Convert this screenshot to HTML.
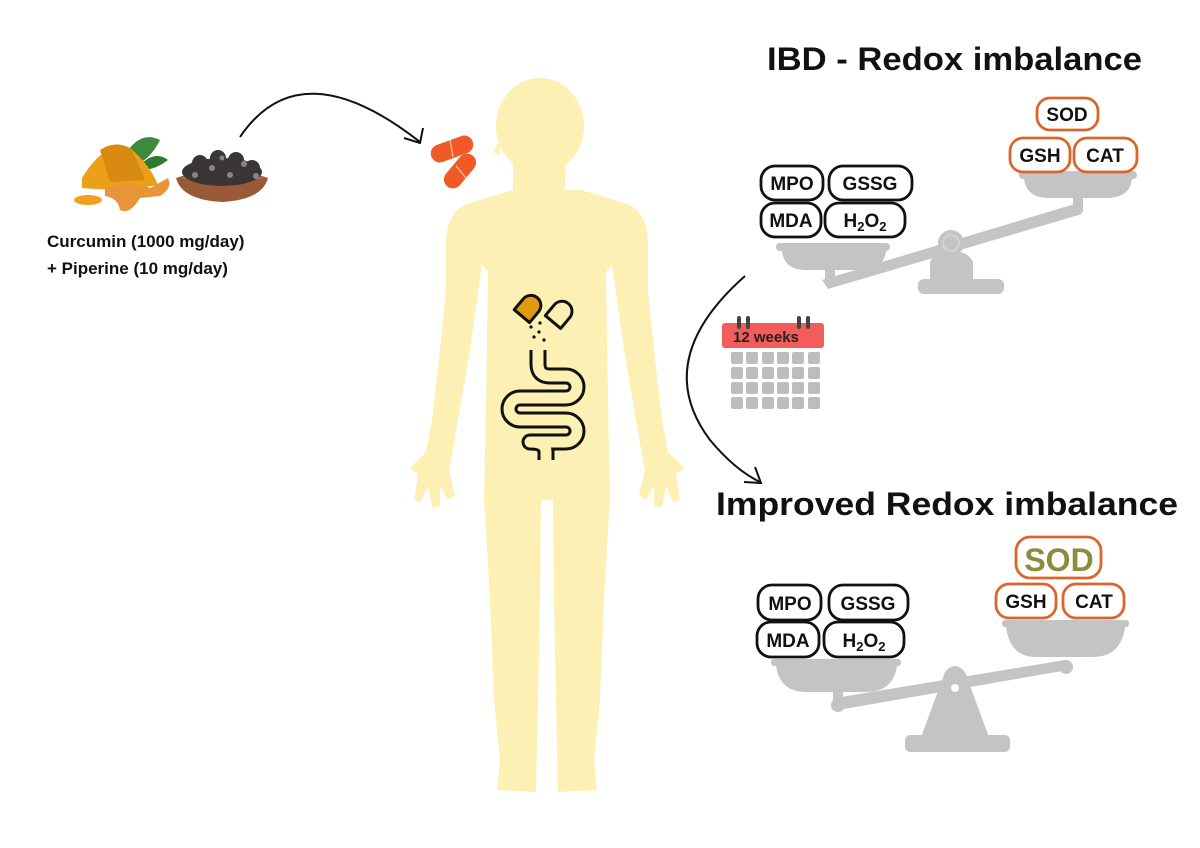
<!DOCTYPE html>
<html><head><meta charset="utf-8"><style>
html,body{margin:0;padding:0;background:#fff;}
svg{display:block;}
text{font-family:"Liberation Sans",Arial,sans-serif;font-weight:bold;}
</style></head><body>
<svg width="1200" height="848" viewBox="0 0 1200 848" xmlns="http://www.w3.org/2000/svg">
<!-- body -->
<g fill="#fdf0b4">
<ellipse cx="540" cy="126" rx="44" ry="48"/>
<path d="M500,140 L493,152 L500,156 Z"/>
<rect x="513" y="150" width="52" height="55"/>
<path d="M513,190 L470,203 Q446,210 446,245 L480,262 L488,272 L486,400 L484,500 L610,500 L608,400 L606,272 L614,262 L648,245 Q648,210 624,203 L581,190 Z"/>
<path d="M446,238 L481,238 L482,265 L470,350 L458,420 L452,455 L449,470 L455,495 L448,500 L440,486 L440,506 L432,508 L428,486 L421,502 L414,500 L418,474 L410,468 L426,452 L432,420 L440,350 L446,290 Z"/>
<path d="M648,238 L613,238 L612,265 L624,350 L636,420 L642,455 L645,470 L639,495 L646,500 L654,486 L654,506 L662,508 L666,486 L673,502 L680,500 L676,474 L684,468 L668,452 L662,420 L654,350 L648,290 Z"/>
<path d="M484,495 L541,495 L540,600 L538,700 L536,792 L497,790 L500,760 L494,700 L490,600 Z"/>
<path d="M553,495 L610,495 L604,600 L600,700 L594,760 L597,790 L558,792 L556,700 L554,600 Z"/>
</g>
<!-- orange pills -->
<g fill="#ef5a26">
<rect x="430" y="140" width="44" height="18" rx="9" transform="rotate(-20 452 149)"/>
<rect x="440" y="162" width="40" height="18" rx="9" transform="rotate(-50 460 171)"/>
</g>
<g stroke="#fbc9a8" stroke-width="1.2"><line x1="450" y1="140" x2="453" y2="157"/><line x1="456" y1="166" x2="466" y2="178"/></g>
<!-- curved arrow top -->
<path d="M240,137 Q300,48 420,142" fill="none" stroke="#111" stroke-width="2"/>
<path d="M404,138 L420,143 L423,128" fill="none" stroke="#111" stroke-width="2"/>
<!-- stomach icon -->
<g transform="rotate(40 527 310)">
<path d="M517,318 V304 A10,10 0 0 1 537,304 V318 Z" fill="#e09a12" stroke="#111" stroke-width="3" stroke-linejoin="round"/>
</g>
<g transform="rotate(40 553 322)">
<path d="M543,322 V336 A10,10 0 0 0 563,336 V322 Z" fill="none" stroke="#111" stroke-width="3" stroke-linejoin="round" transform="rotate(180 553 322)"/>
</g>
<g fill="#111"><circle cx="531" cy="327" r="1.6"/><circle cx="539" cy="332" r="1.6"/><circle cx="534" cy="337" r="1.6"/><circle cx="544" cy="340" r="1.6"/><circle cx="540" cy="323" r="1.6"/></g>
<path d="M538,350 V364 Q538,376 550,376 H566 A11,11 0 0 1 566,398 H520 A11,11 0 0 0 520,420 H566 A11,11 0 0 1 566,442 H530 Q546,442 546,452 V460" fill="none" stroke="#111" stroke-width="17" stroke-linejoin="round"/>
<path d="M538,346 V364 Q538,376 550,376 H566 A11,11 0 0 1 566,398 H520 A11,11 0 0 0 520,420 H566 A11,11 0 0 1 566,442 H530 Q546,442 546,452 V464" fill="none" stroke="#fdf0b4" stroke-width="11" stroke-linejoin="round"/>
<!-- food -->
<ellipse cx="88" cy="200" rx="14" ry="5" fill="#f0a020"/>
<path d="M125,155 Q140,130 160,140 Q150,160 135,165 Z" fill="#3d8a3a"/>
<path d="M140,165 Q155,150 168,160 Q155,170 142,170 Z" fill="#2f7a30"/>
<path d="M82,178 Q105,140 130,148 Q150,165 158,185 Q120,192 82,188 Z" fill="#eaa018"/>
<path d="M100,150 Q115,140 130,148 Q140,165 145,180 L110,182 Z" fill="#d98a10"/>
<path d="M105,188 Q130,180 150,188 L168,178 Q173,188 160,196 L140,198 Q130,215 120,210 Q118,198 105,196 Z" fill="#e8953a"/>
<path d="M176,178 Q222,162 268,178 Q262,200 222,202 Q182,200 176,178 Z" fill="#9a5a38"/>
<path d="M180,178 Q222,168 264,178 Q222,185 180,178 Z" fill="#b57a55"/>
<g fill="#3a3636">
<ellipse cx="222" cy="172" rx="40" ry="14"/>
<circle cx="200" cy="163" r="8"/><circle cx="218" cy="158" r="8"/><circle cx="236" cy="160" r="8"/><circle cx="252" cy="168" r="8"/>
</g>
<g fill="#8a8580"><circle cx="195" cy="175" r="3"/><circle cx="212" cy="168" r="3"/><circle cx="230" cy="175" r="3"/><circle cx="244" cy="164" r="3"/><circle cx="256" cy="176" r="3"/><circle cx="222" cy="158" r="2.5"/></g>
<text x="47" y="247" font-size="17" fill="#111">Curcumin (1000 mg/day)</text>
<text x="47" y="274" font-size="17" fill="#111">+ Piperine (10 mg/day)</text>
<!-- titles -->
<text x="767" y="70" font-size="32" fill="#111" textLength="375" lengthAdjust="spacingAndGlyphs">IBD - Redox imbalance</text>
<text x="716" y="515" font-size="32" fill="#111" textLength="462" lengthAdjust="spacingAndGlyphs">Improved Redox imbalance</text>
<!-- scale 1 -->
<g fill="#c4c4c4">
<path d="M822,280 L1078,203 L1082,214 L828,289 Z"/>
<rect x="1073" y="190" width="10" height="22"/>
<rect x="825" y="262" width="10" height="22"/>
<circle cx="951" cy="243" r="13"/>
<path d="M930,262 Q935,252 945,252 H958 Q968,252 973,262 V280 H930 Z"/>
<rect x="918" y="279" width="86" height="15" rx="6"/>
<rect x="776" y="243" width="114" height="8" rx="4"/>
<path d="M782,251 H886 Q884,270 860,270 H806 Q784,270 782,251 Z"/>
<rect x="1019" y="171" width="118" height="8" rx="4"/>
<path d="M1024,179 H1132 Q1130,198 1106,198 H1050 Q1026,198 1024,179 Z"/>
</g>
<circle cx="951" cy="243" r="8" fill="none" stroke="#d8d8d8" stroke-width="1.5"/>
<g fill="#fff" stroke-width="2.8">
<rect x="761" y="166" width="62" height="34" rx="14" stroke="#111"/>
<rect x="829" y="166" width="83" height="34" rx="14" stroke="#111"/>
<rect x="761" y="203" width="60" height="34" rx="14" stroke="#111"/>
<rect x="825" y="203" width="80" height="34" rx="14" stroke="#111"/>
<rect x="1037" y="98" width="61" height="32" rx="13" stroke="#d9662a"/>
<rect x="1010" y="138" width="60" height="34" rx="13" stroke="#d9662a"/>
<rect x="1074" y="138" width="63" height="34" rx="13" stroke="#d9662a"/>
</g>
<g font-size="19" fill="#111" text-anchor="middle">
<text x="792" y="190">MPO</text><text x="870" y="190">GSSG</text>
<text x="791" y="227">MDA</text>
<text x="865" y="227">H<tspan font-size="13" dy="4">2</tspan><tspan dy="-4">O</tspan><tspan font-size="13" dy="4">2</tspan></text>
<text x="1067" y="121">SOD</text><text x="1040" y="162">GSH</text><text x="1105" y="162">CAT</text>
</g>
<!-- scale 2 -->
<g fill="#c4c4c4">
<path d="M835,698 L1065,660 L1068,670 L838,710 Z"/>
<rect x="833" y="688" width="10" height="22"/>
<circle cx="1066" cy="667" r="7"/>
<circle cx="838" cy="705" r="7"/>
<path d="M945,672 Q955,660 965,672 L990,740 H920 Z"/>
<rect x="905" y="735" width="105" height="17" rx="5"/>
<rect x="771" y="659" width="130" height="7" rx="3"/>
<path d="M776,666 H897 Q893,692 866,692 H806 Q780,692 776,666 Z"/>
<rect x="1002" y="620" width="127" height="7" rx="3"/>
<path d="M1006,627 H1125 Q1121,657 1093,657 H1036 Q1010,657 1006,627 Z"/>
</g>
<circle cx="955" cy="688" r="4" fill="#fff"/>
<g fill="#fff" stroke-width="2.8">
<rect x="758" y="585" width="63" height="35" rx="14" stroke="#111"/>
<rect x="829" y="585" width="79" height="35" rx="14" stroke="#111"/>
<rect x="757" y="622" width="62" height="35" rx="14" stroke="#111"/>
<rect x="824" y="622" width="80" height="35" rx="14" stroke="#111"/>
<rect x="1016" y="537" width="85" height="41" rx="14" stroke="#d9662a"/>
<rect x="996" y="584" width="60" height="34" rx="13" stroke="#d9662a"/>
<rect x="1063" y="584" width="61" height="34" rx="13" stroke="#d9662a"/>
</g>
<g font-size="19" fill="#111" text-anchor="middle">
<text x="790" y="610">MPO</text><text x="868" y="610">GSSG</text>
<text x="788" y="647">MDA</text>
<text x="864" y="647">H<tspan font-size="13" dy="4">2</tspan><tspan dy="-4">O</tspan><tspan font-size="13" dy="4">2</tspan></text>
<text x="1026" y="608">GSH</text><text x="1094" y="608">CAT</text>
</g>
<text x="1059" y="571" font-size="32" fill="#8c8c3c" text-anchor="middle">SOD</text>
<!-- arrow 2 -->
<path d="M745,276 Q650,360 710,440 Q735,470 760,482" fill="none" stroke="#111" stroke-width="2"/>
<path d="M744,482 L761,483 L755,467" fill="none" stroke="#111" stroke-width="2"/>
<!-- calendar -->
<rect x="722" y="323" width="102" height="25" rx="3" fill="#f45b5b"/>
<g fill="#444"><rect x="737" y="316" width="4" height="13" rx="2"/><rect x="746" y="316" width="4" height="13" rx="2"/><rect x="797" y="316" width="4" height="13" rx="2"/><rect x="806" y="316" width="4" height="13" rx="2"/></g>
<text x="733" y="342" font-size="15" fill="#222">12 weeks</text>
<g fill="#bdbdbd">
<rect x="731" y="352" width="12" height="12" rx="2"/><rect x="746" y="352" width="12" height="12" rx="2"/><rect x="762" y="352" width="12" height="12" rx="2"/><rect x="777" y="352" width="12" height="12" rx="2"/><rect x="792" y="352" width="12" height="12" rx="2"/><rect x="808" y="352" width="12" height="12" rx="2"/>
<rect x="731" y="367" width="12" height="12" rx="2"/><rect x="746" y="367" width="12" height="12" rx="2"/><rect x="762" y="367" width="12" height="12" rx="2"/><rect x="777" y="367" width="12" height="12" rx="2"/><rect x="792" y="367" width="12" height="12" rx="2"/><rect x="808" y="367" width="12" height="12" rx="2"/>
<rect x="731" y="382" width="12" height="12" rx="2"/><rect x="746" y="382" width="12" height="12" rx="2"/><rect x="762" y="382" width="12" height="12" rx="2"/><rect x="777" y="382" width="12" height="12" rx="2"/><rect x="792" y="382" width="12" height="12" rx="2"/><rect x="808" y="382" width="12" height="12" rx="2"/>
<rect x="731" y="397" width="12" height="12" rx="2"/><rect x="746" y="397" width="12" height="12" rx="2"/><rect x="762" y="397" width="12" height="12" rx="2"/><rect x="777" y="397" width="12" height="12" rx="2"/><rect x="792" y="397" width="12" height="12" rx="2"/><rect x="808" y="397" width="12" height="12" rx="2"/>
</g>
</svg>
</body></html>
